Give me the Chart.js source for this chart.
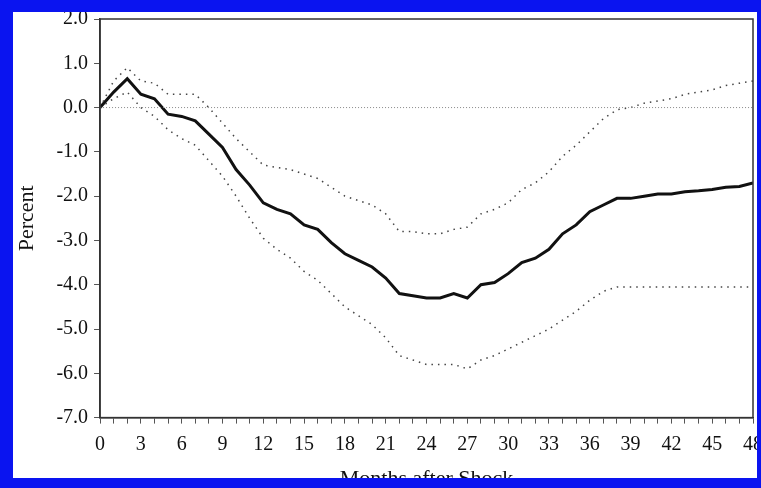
<!DOCTYPE html>
<html>
<head>
<meta charset="utf-8">
<script src="https://cdn.jsdelivr.net/npm/chart.js@4"></script>
<style>
  html, body { margin: 0; padding: 0; background: #0a14f0; }
  #frame { position: absolute; left: 13px; top: 12px; width: 744px; height: 466px; background: #fff; overflow: hidden; }
  #wrap { position: absolute; left: 1px; top: -11px; width: 758px; height: 491px; }
</style>
</head>
<body>
<div id="frame"><div id="wrap"><canvas id="irf"></canvas></div></div>
<script>
// Impulse response: months after shock, percent
const months = Array.from({ length: 49 }, (_, i) => i);
const response = [0, 0.35, 0.65, 0.3, 0.2, -0.15, -0.2, -0.3, -0.6, -0.9, -1.4, -1.75, -2.15, -2.3, -2.4, -2.65, -2.75,
  -3.05, -3.3, -3.45, -3.6, -3.85, -4.2, -4.25, -4.3, -4.3, -4.2, -4.3, -4.0, -3.95, -3.75, -3.5, -3.4, -3.2,
  -2.85, -2.65, -2.35, -2.2, -2.05, -2.05, -2.0, -1.95, -1.95, -1.9, -1.88, -1.85, -1.8, -1.78, -1.7];
const upperBand = [0, 0.6, 0.9, 0.6, 0.55, 0.3, 0.3, 0.3, 0.0, -0.35, -0.7, -1.0, -1.3, -1.35, -1.4, -1.5, -1.6,
  -1.8, -2.0, -2.1, -2.2, -2.4, -2.8, -2.8, -2.85, -2.85, -2.75, -2.7, -2.4, -2.3, -2.15, -1.85, -1.7, -1.45,
  -1.1, -0.85, -0.55, -0.25, -0.05, 0.0, 0.1, 0.15, 0.2, 0.3, 0.35, 0.4, 0.5, 0.55, 0.6];
const lowerBand = [0, 0.2, 0.35, 0.0, -0.2, -0.5, -0.7, -0.85, -1.2, -1.55, -2.0, -2.5, -2.95, -3.2, -3.4, -3.7, -3.9,
  -4.2, -4.5, -4.7, -4.9, -5.2, -5.6, -5.7, -5.8, -5.8, -5.8, -5.9, -5.7, -5.6, -5.45, -5.3, -5.15, -5.0,
  -4.8, -4.6, -4.35, -4.15, -4.05, -4.05, -4.05, -4.05, -4.05, -4.05, -4.05, -4.05, -4.05, -4.05, -4.05];
const zeroLine = [0, 0];
const zeroX = [0, 48];

const pts = (xs, ys) => xs.map((x, i) => ({ x: x, y: ys[i] }));

// box around the plot area
const boxPlugin = {
  id: 'box',
  afterDraw(chart) {
    const a = chart.chartArea, c = chart.ctx;
    c.save();
    c.strokeStyle = '#333';
    c.lineWidth = 1.5;
    c.strokeRect(a.left, a.top, a.right - a.left, a.bottom - a.top);
    c.restore();
  }
};

const serif = "'Liberation Serif', 'DejaVu Serif', serif";

new Chart(document.getElementById('irf'), {
  type: 'line',
  data: {
    datasets: [{
      data: pts(zeroX, zeroLine),
      borderColor: '#888',
      borderWidth: 1,
      borderDash: [1, 2],
      pointRadius: 0
    }, {
      data: pts(months, upperBand),
      borderColor: '#444',
      borderWidth: 1.5,
      borderDash: [1.5, 5],
      pointRadius: 0
    }, {
      data: pts(months, lowerBand),
      borderColor: '#444',
      borderWidth: 1.5,
      borderDash: [1.5, 5],
      pointRadius: 0
    }, {
      data: pts(months, response),
      borderColor: '#111',
      borderWidth: 3,
      pointRadius: 0
    }]
  },
  options: {
    responsive: true,
    maintainAspectRatio: false,
    animation: false,
    layout: { padding: { top: 5, right: 5, left: 0, bottom: 0 } },
    plugins: { legend: { display: false }, tooltip: { enabled: false } },
    scales: {
      x: {
        type: 'linear',
        min: 0,
        max: 48,
        ticks: {
          stepSize: 1,
          autoSkip: false,
          maxRotation: 0,
          padding: 9,
          color: '#111',
          font: { family: serif, size: 20 },
          callback: v => (v % 3 === 0 ? String(v) : '')
        },
        grid: { drawOnChartArea: false, drawTicks: true, tickLength: 6, color: '#555' },
        border: { color: '#333', width: 1.5 },
        title: { display: true, text: 'Months after Shock', color: '#111', font: { family: serif, size: 22 }, padding: { top: 0, bottom: 0 } }
      },
      y: {
        min: -7,
        max: 2,
        ticks: {
          stepSize: 1,
          color: '#111',
          padding: 6,
          font: { family: serif, size: 20 },
          callback: v => v.toFixed(1)
        },
        grid: { drawOnChartArea: false, drawTicks: true, tickLength: 6, color: '#555' },
        border: { color: '#333', width: 1.5 },
        title: { display: true, text: 'Percent', color: '#111', font: { family: serif, size: 22 }, padding: { top: 0, bottom: 10 } }
      }
    }
  },
  plugins: [boxPlugin]
});
</script>
</body>
</html>
